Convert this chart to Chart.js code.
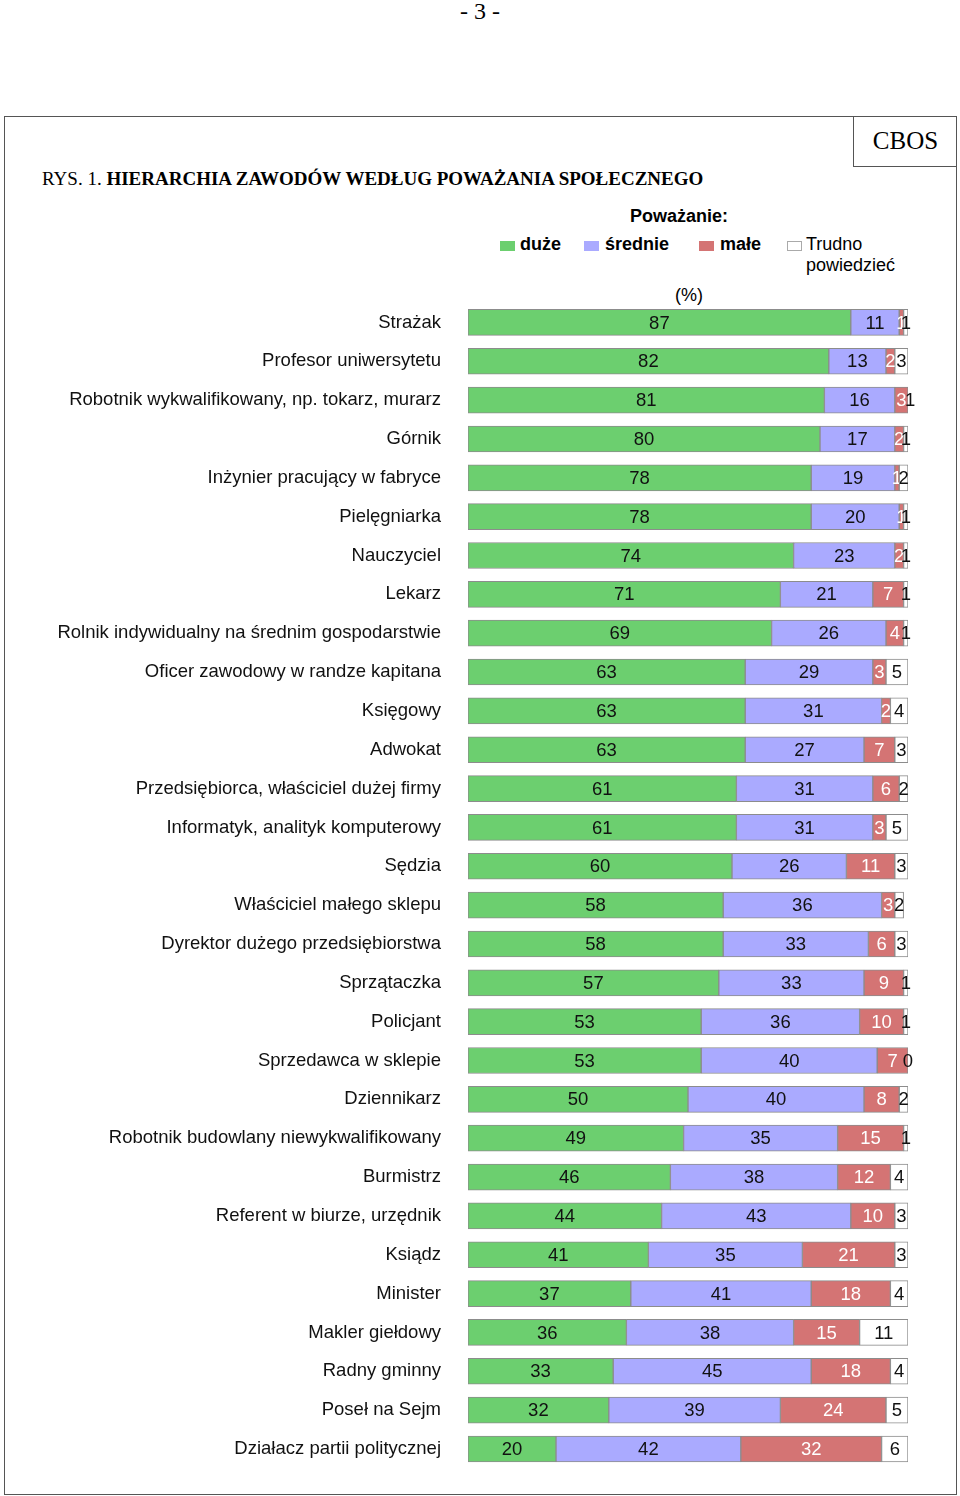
<!DOCTYPE html>
<html><head><meta charset="utf-8">
<script src="https://cdn.jsdelivr.net/npm/chart.js@4/dist/chart.umd.min.js"></script>
<style>
html,body{margin:0;padding:0;background:#fff;}
body{width:960px;height:1496px;position:relative;overflow:hidden;font-family:"Liberation Sans",Arial,sans-serif;}
.abs{position:absolute;white-space:nowrap;}
#frame{position:absolute;left:4px;top:116px;width:953px;height:1379px;border:1.5px solid #555;box-sizing:border-box;}
#cbos{position:absolute;left:853px;top:116px;width:104px;height:51px;border-left:1.5px solid #555;border-bottom:1.5px solid #555;box-sizing:border-box;font-family:"Liberation Serif","Times New Roman",serif;font-size:25px;text-align:center;line-height:50px;}
.serif{font-family:"Liberation Serif","Times New Roman",serif;}
.box{position:absolute;width:15px;height:10px;border:1px solid #aaa;box-sizing:border-box;}
canvas{position:absolute;left:0;top:0;}
</style></head><body>
<div class="abs serif" style="left:0;width:960px;text-align:center;top:-2px;font-size:24px;">- 3 -</div>
<div id="frame"></div>
<div id="cbos">CBOS</div>
<div class="abs serif" style="left:42px;top:168px;font-size:19px;">RYS. 1. <b>HIERARCHIA ZAWODÓW WEDŁUG POWAŻANIA SPOŁECZNEGO</b></div>
<div class="abs" style="left:579px;width:200px;text-align:center;top:206px;font-size:18px;font-weight:bold;">Poważanie:</div>
<div class="box" style="left:500px;top:241px;background:#6ccf6f;border-color:#6ccf6f;"></div>
<div class="abs" style="left:520px;top:234px;font-size:18px;font-weight:bold;">duże</div>
<div class="box" style="left:584px;top:241px;background:#aaaaff;border-color:#aaaaff;"></div>
<div class="abs" style="left:605px;top:234px;font-size:18px;font-weight:bold;">średnie</div>
<div class="box" style="left:699px;top:241px;background:#d47474;border-color:#d47474;"></div>
<div class="abs" style="left:720px;top:234px;font-size:18px;font-weight:bold;">małe</div>
<div class="box" style="left:787px;top:241px;background:#fff;"></div>
<div class="abs" style="left:806px;top:234px;font-size:18px;line-height:21px;">Trudno<br>powiedzieć</div>
<div class="abs" style="left:639px;width:100px;text-align:center;top:285px;font-size:18px;">(%)</div>
<canvas id="c" width="960" height="1496"></canvas>
<script>
const categories = ["Strażak","Profesor uniwersytetu","Robotnik wykwalifikowany, np. tokarz, murarz","Górnik","Inżynier pracujący w fabryce","Pielęgniarka","Nauczyciel","Lekarz","Rolnik indywidualny na średnim gospodarstwie","Oficer zawodowy w randze kapitana","Księgowy","Adwokat","Przedsiębiorca, właściciel dużej firmy","Informatyk, analityk komputerowy","Sędzia","Właściciel małego sklepu","Dyrektor dużego przedsiębiorstwa","Sprzątaczka","Policjant","Sprzedawca w sklepie","Dziennikarz","Robotnik budowlany niewykwalifikowany","Burmistrz","Referent w biurze, urzędnik","Ksiądz","Minister","Makler giełdowy","Radny gminny","Poseł na Sejm","Działacz partii politycznej"];
const duze     = [87,82,81,80,78,78,74,71,69,63,63,63,61,61,60,58,58,57,53,53,50,49,46,44,41,37,36,33,32,20];
const srednie  = [11,13,16,17,19,20,23,21,26,29,31,27,31,31,26,36,33,33,36,40,40,35,38,43,35,41,38,45,39,42];
const male     = [1,2,3,2,1,1,2,7,4,3,2,7,6,3,11,3,6,9,10,7,8,15,12,10,21,18,15,18,24,32];
const trudno   = [1,3,1,1,2,1,1,1,1,5,4,3,2,5,3,2,3,1,1,0,2,1,4,3,3,4,11,4,5,6];
const seriesNames = ["duże","średnie","małe","Trudno powiedzieć"];

const fills = ["#6ccf6f","#aaaaff","#d47474","#ffffff"];
const textColors = ["#111","#111","#fff","#111"];

const valueLabels = {
  id:'valueLabels',
  afterDatasetsDraw(chart){
    const ctx = chart.ctx;
    ctx.save();
    ctx.font = '18.5px "Liberation Sans", Arial, sans-serif';
    ctx.textAlign='center';
    ctx.textBaseline='middle';
    chart.data.datasets.forEach((ds,i)=>{
      const meta = chart.getDatasetMeta(i);
      meta.data.forEach((bar,j)=>{
        const v = ds.data[j];
        const cx = (bar.x + bar.base)/2;
        ctx.fillStyle = textColors[i];
        ctx.fillText(String(v), cx, bar.y+1);
      });
    });
    ctx.restore();
  }
};

new Chart(document.getElementById('c'),{
  type:'bar',
  data:{
    labels:categories,
    datasets:[duze,srednie,male,trudno].map((d,i)=>({
      label:seriesNames[i],
      data:d,
      backgroundColor:fills[i],
      borderColor:'#8c8c8c',
      borderWidth:1,
      borderSkipped:false,
      barThickness:26
    }))
  },
  options:{
    responsive:false,
    animation:false,
    indexAxis:'y',
    layout:{padding:{left:0,right:52,top:303,bottom:27.6}},
    plugins:{legend:{display:false},tooltip:{enabled:false}},
    scales:{
      x:{stacked:true,min:0,max:100,display:false},
      y:{stacked:true,
         grid:{display:false,drawTicks:false},
         border:{display:false},
         afterFit(s){s.width=468; s.paddingTop=0; s.paddingBottom=0;},
         ticks:{padding:27,color:'#111',font:{size:18.5,family:'"Liberation Sans", Arial, sans-serif'}}
      }
    }
  },
  plugins:[valueLabels]
});
</script>
</body></html>
